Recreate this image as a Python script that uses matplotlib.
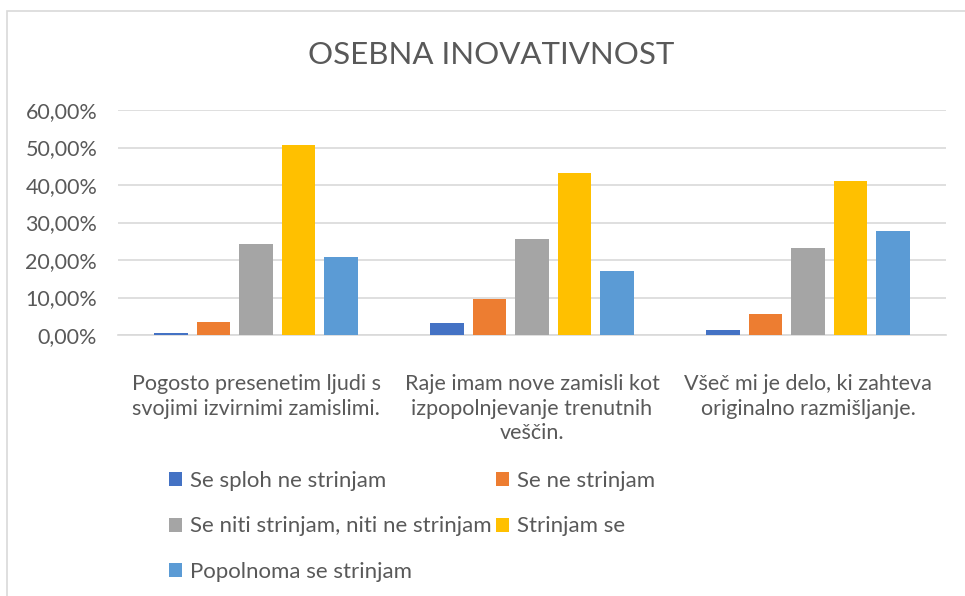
import numpy as np
import matplotlib.pyplot as plt
from matplotlib.patches import Rectangle

plt.rcParams['font.family'] = ['Lato', 'DejaVu Sans']

categories = [
    "Pogosto presenetim ljudi s\nsvojimi izvirnimi zamislimi.",
    "Raje imam nove zamisli kot\nizpopolnjevanje trenutnih\nveščin.",
    "Všeč mi je delo, ki zahteva\noriginalno razmišljanje.",
]
series_names = [
    "Se sploh ne strinjam",
    "Se ne strinjam",
    "Se niti strinjam, niti ne strinjam",
    "Strinjam se",
    "Popolnoma se strinjam",
]
values = [
    [0.005, 0.033, 0.013],
    [0.034, 0.097, 0.057],
    [0.242, 0.257, 0.233],
    [0.508, 0.433, 0.410],
    [0.207, 0.171, 0.277],
]
colors = ["#4472C4", "#ED7D31", "#A5A5A5", "#FFC000", "#5B9BD5"]
text_color = "#595959"

fig = plt.figure(figsize=(9.65, 5.96), dpi=100)
W, H = 965, 596
ax = fig.add_axes([118 / W, 1 - 335 / H, (946 - 118) / W, (335 - 110) / H])

# chart border
fig.patches.append(Rectangle((7 / W, -0.1), 1.2, 1 - 11 / H + 0.1,
                             transform=fig.transFigure, fill=False,
                             edgecolor="#D9D9D9", linewidth=1.2))

x = np.arange(len(categories))
width = 0.12
step = 0.154
handles = []
for i, (name, vals) in enumerate(zip(series_names, values)):
    b = ax.bar(x + (i - 2) * step, vals, width, color=colors[i], label=name, zorder=3)
    handles.append(b)

ax.set_xlim(-0.5, 2.5)
ax.set_ylim(0, 0.6)
ax.set_yticks(np.arange(0, 0.61, 0.1))
ax.set_yticklabels([f"{v:.2f}%".replace(".", ",") for v in np.arange(0, 61, 10)])
ax.set_xticks(x)
ax.set_xticklabels(categories, linespacing=1.3)
ax.tick_params(axis="both", length=0, labelsize=15.5, colors=text_color)
ax.tick_params(axis="y", pad=15)
ax.tick_params(axis="x", pad=28)
ax.grid(axis="y", color="#D9D9D9", linewidth=1.2, zorder=0)
for s in ["top", "right", "left"]:
    ax.spines[s].set_visible(False)
ax.spines["bottom"].set_color("#D9D9D9")
ax.spines["bottom"].set_linewidth(1.2)

fig.text(491 / W, 1 - 55 / H, "OSEBNA INOVATIVNOST", ha="center", va="center",
         fontsize=22.5, color=text_color)

order = [0, 2, 4, 1, 3]
leg = fig.legend([handles[i] for i in order], [series_names[i] for i in order],
                 ncol=2, loc="upper left", bbox_to_anchor=(160 / W, 1 - 462 / H),
                 frameon=False, fontsize=16, handlelength=0.6, handleheight=0.6,
                 handletextpad=0.35, labelspacing=1.15, columnspacing=0.2,
                 borderaxespad=0)
for t in leg.get_texts():
    t.set_color(text_color)

fig.savefig("out.png", dpi=100)
